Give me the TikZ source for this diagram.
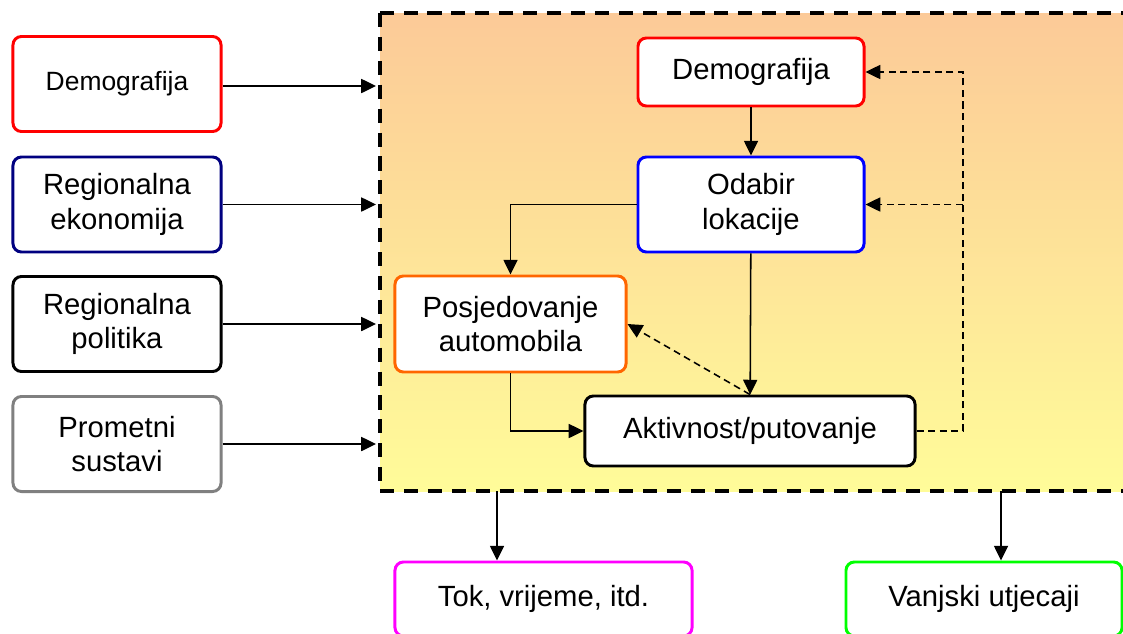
\documentclass[tikz,border=0pt]{standalone}
\usepackage{fontspec}
\setmainfont{Liberation Sans}
\usetikzlibrary{arrows.meta, positioning, calc}

\definecolor{frametop}{RGB}{252,202,152}
\definecolor{framebot}{RGB}{255,252,153}
\definecolor{regnavy}{RGB}{0,0,128}
\definecolor{posjorange}{RGB}{255,102,0}
\definecolor{tokpink}{RGB}{255,0,255}

\tikzset{
  box/.style={draw, line width=2.1pt, rounded corners=6pt, fill=white, align=center,
    inner sep=0pt, font=\fontsize{20.8}{24.5}\selectfont},
  smalltxt/.style={font=\fontsize{18.8}{23}\selectfont},
  link/.style={-{Triangle[length=10.5pt,width=10pt]}, line width=1.1pt},
  fb/.style={link, dash pattern=on 5pt off 3.2pt},
  frame/.style={line width=3pt, dash pattern=on 10pt off 7pt},
}

\begin{document}
\begin{tikzpicture}[x=0.025cm, y=-0.025cm]
  \clip (0,0) rectangle (1123,633);
  %% shaded model frame
  \shade[top color=frametop, bottom color=framebot] (380,13) rectangle (1140,491);
  \draw[frame] (380,13) rectangle (1140,491);

  %% outside inputs
  \node[box, smalltxt, draw=red, minimum width=5.2cm, minimum height=2.375cm] (demo1) at (117,84) {Demografija};
  \coordinate (demo1-in) at (376,86);
  \draw[link] (demo1.east |- demo1-in) -- (demo1-in);
  \foreach \nm/\yy/\col/\txt in {eko/204.5/regnavy/{Regionalna\\ekonomija},
      pol/324/black/{Regionalna\\politika},
      prom/444/gray/{Prometni\\sustavi}}{
    \node[box, draw=\col, minimum width=5.2cm, minimum height=2.375cm] (\nm) at (117,\yy) {\txt};
    \coordinate (\nm-in) at (376,\yy);
    \draw[link] (\nm) -- (\nm-in);
  }

  %% model inside the frame
  \node[box, draw=red, minimum width=5.65cm, minimum height=1.7cm] (demo2) at (751,72) {Demografija};
  \node[box, draw=blue, minimum width=5.65cm, minimum height=2.375cm] (odabir) at (751,204.5) {Odabir\\lokacije};
  \node[box, draw=posjorange, minimum width=5.775cm, minimum height=2.4cm] (posj) at (510.5,324) {Posjedovanje\\automobila};
  \node[box, draw=black, minimum width=8.25cm, minimum height=1.75cm] (akt) at (750,431) {Aktivnost/putovanje};

  \draw[link] (demo2) -- (odabir);
  \draw[link] (odabir.west) -| (posj.north);
  \draw[link] (odabir) -- (akt);
  \draw[link] (posj.south) |- (akt.west);

  %% feedback
  \coordinate (fbx) at (963,0);
  \draw[fb] (akt.north) -- (posj.east);
  \draw[fb] (akt.east) -| (fbx |- demo2.east) -- (demo2.east);
  \draw[fb] (fbx |- odabir.east) -- (odabir.east);

  %% outputs
  \node[box, draw=tokpink, minimum width=7.425cm, minimum height=1.85cm] (tok) at (543.5,599) {Tok, vrijeme, itd.};
  \node[box, draw=green, minimum width=6.9cm, minimum height=1.85cm] (vanj) at (984,599) {Vanjski utjecaji};
  \coordinate (out1) at (497,491);
  \coordinate (out2) at (1001,491);
  \draw[link] (out1) -- (out1 |- tok.north);
  \draw[link] (out2) -- (out2 |- vanj.north);
\end{tikzpicture}
\end{document}
